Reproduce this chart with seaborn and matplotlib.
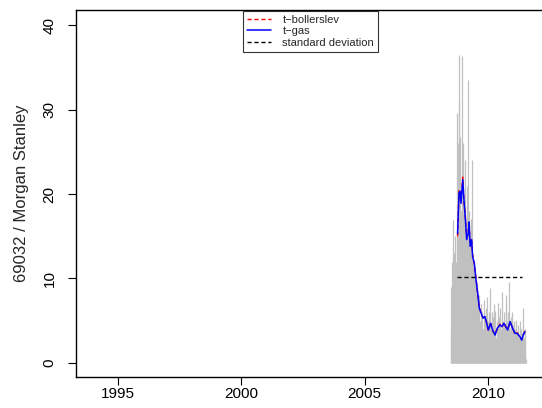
import numpy as np
import pandas as pd
import matplotlib
matplotlib.use("Agg")
import matplotlib.pyplot as plt
import seaborn as sns

sns.set_style("ticks")
plt.rcParams['font.family'] = ['Liberation Sans', 'DejaVu Sans']

# observed (grey spikes), weekly from mid 2008
obs_start = 2008.5
obs_vals = [3.5, 9, 2.5, 12, 16.9, 6, 13, 4, 15, 9, 12, 7,
            29.6, 15, 26, 11, 22, 31, 36.4, 12, 26.8, 18, 16, 36.3,
            10, 20, 26, 7, 19, 14, 24, 5, 17, 21, 9, 13,
            33.5, 8, 18, 11, 15, 4, 17, 10, 24, 6, 12, 8,
            12, 2, 10, 6, 9.8, 4, 8, 3, 9.5, 5, 7, 2,
            8, 3, 5, 0.5, 7, 2, 6, 4, 1, 7.5, 3, 5,
            2, 6.5, 1, 4, 7.8, 3, 0.5, 5, 2, 6, 8.9, 1,
            4, 2.5, 6, 0.5, 3, 5.5, 1, 7, 2, 4, 6.2, 1.5,
            3, 5, 0.5, 4, 7.1, 2, 5.5, 1, 6.5, 3, 4, 2,
            8.4, 1, 5, 3, 6, 0.5, 4.5, 2, 7, 8.0, 1.5, 5,
            3, 6, 2, 9.6, 1, 4, 5.5, 0.5, 3.5, 6, 2, 4.5,
            1, 5, 3, 0.5, 4, 5.1, 2, 3.5, 1, 4.5, 2.5, 0.5,
            3, 5, 1.5, 4, 2, 3.5, 0.5, 4, 6.5, 2, 3, 1,
            4, 2.5, 0.5]
obs_years = obs_start + np.arange(len(obs_vals)) / 52.0

# filtered volatility paths
fit_years = [2008.77, 2008.83, 2008.87, 2008.91, 2008.98, 2009.03, 2009.08, 2009.14,
             2009.20, 2009.24, 2009.28, 2009.34, 2009.38, 2009.45, 2009.52, 2009.59,
             2009.65, 2009.75, 2009.81, 2009.88, 2009.95, 2010.02, 2010.11, 2010.19,
             2010.29, 2010.38, 2010.49, 2010.57, 2010.65, 2010.73, 2010.80, 2010.90,
             2011.00, 2011.10, 2011.19, 2011.30, 2011.37, 2011.43, 2011.50]
tgas = [15.3, 20.1, 20.3, 18.9, 21.7, 19.3, 17.3, 14.6,
        15.3, 16.7, 13.8, 14.6, 12.6, 11.8, 9.8, 8.2,
        6.5, 5.7, 5.3, 5.5, 4.7, 3.9, 4.7, 3.9,
        3.3, 4.1, 4.5, 4.3, 4.7, 4.3, 3.9, 4.9,
        4.1, 3.5, 3.5, 3.1, 2.7, 3.3, 3.7]
tboll = [15.0, 20.4, 20.0, 19.2, 22.0, 19.0, 17.6, 14.9,
         15.6, 16.4, 14.1, 14.4, 12.9, 11.6, 10.0, 8.0,
         6.7, 5.6, 5.4, 5.4, 4.8, 3.8, 4.8, 3.8,
         3.4, 4.0, 4.6, 4.2, 4.8, 4.2, 4.0, 4.8,
         4.2, 3.4, 3.6, 3.0, 2.8, 3.2, 3.8]

sd_years = [2008.75, 2011.38]
sd_vals = [10.2, 10.2]

fig = plt.figure(figsize=(5.42, 4.08), dpi=100, facecolor='white')
ax_w = 1.0 - 76 / 542
ax = fig.add_axes([76 / 542, 0.076, ax_w, 0.8995])

ax.vlines(obs_years, 0, obs_vals, color='#C0C0C0', lw=0.9)
sns.lineplot(x=fit_years, y=tboll, ax=ax, color='#FF0000', lw=1, linestyle=(0, (3, 2)),
             label='t\u2212bollerslev', estimator=None, sort=False)
sns.lineplot(x=fit_years, y=tgas, ax=ax, color='#0000FF', lw=1.1,
             label='t\u2212gas', estimator=None, sort=False)
sns.lineplot(x=sd_years, y=sd_vals, ax=ax, color='black', lw=1, linestyle=(0, (3, 2)),
             label='standard deviation', estimator=None, sort=False)

# plot frame runs off the right edge of the picture (no right border)
ax.set_xlim(1993.297, 1993.297 + ax_w * 542 / 24.66)
ax.set_ylim(-1.66, 41.78)
ax.set_xticks([1995, 2000, 2005, 2010])
ax.set_yticks([0, 10, 20, 30, 40])
ax.set_yticklabels(['0', '10', '20', '30', '40'], rotation=90, va='center')
ax.tick_params(direction='out', length=6, width=0.8, colors='black', labelsize=11)
ax.tick_params(axis='x', pad=1)
ax.tick_params(axis='y', pad=8)
for s in ['left', 'bottom', 'top']:
    ax.spines[s].set_color('black')
    ax.spines[s].set_linewidth(1)
ax.spines['right'].set_visible(False)
ax.set_ylabel('69032 / Morgan Stanley', fontsize=12, labelpad=10)
ax.set_xlabel('')

leg = ax.legend(loc='upper center', bbox_to_anchor=((310.5 - 76) / (ax_w * 542), 0.997),
                fontsize=8, frameon=True, fancybox=False, edgecolor='black', handlelength=2.2,
                borderpad=0.35, labelspacing=0.12, handletextpad=1.0, borderaxespad=0)
leg.get_frame().set_linewidth(0.8)

fig.savefig('out.png', dpi=100, facecolor='white')
